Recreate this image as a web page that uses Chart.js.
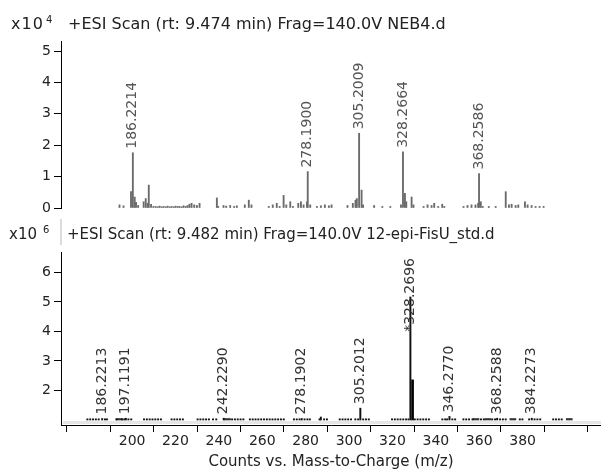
<!DOCTYPE html>
<html>
<head>
<meta charset="utf-8">
<script src="https://cdn.jsdelivr.net/npm/chart.js@4/dist/chart.umd.min.js"></script>
<style>
  html, body { margin: 0; padding: 0; background: #fff; }
  #wrap { position: relative; width: 601px; height: 473px; overflow: hidden;
          font-family: "DejaVu Sans", sans-serif; color: #222; }
  canvas { position: absolute; left: 0; }
  .t { position: absolute; white-space: pre; }
</style>
</head>
<body>
<div id="wrap">
  <canvas id="topChart" width="601" height="232" style="top:0"></canvas>
  <canvas id="bottomChart" width="601" height="233" style="top:240px"></canvas>

  <div class="t" style="left:11px;top:16px;font-size:16px;line-height:16px;letter-spacing:1px">x10</div>
  <div class="t" style="left:46px;top:15px;font-size:10px;line-height:10px">4</div>
  <div class="t" style="left:68px;top:16px;font-size:16px;line-height:16px">+ESI Scan (rt: 9.474 min) Frag=140.0V NEB4.d</div>

  <div class="t" style="left:9px;top:226px;font-size:15px;line-height:16px">x10</div>
  <div class="t" style="left:43px;top:225px;font-size:10px;line-height:10px">6</div>
  <div style="position:absolute;left:60px;top:219px;width:2px;height:26px;background:#dcdcdc"></div>
  <div class="t" style="left:67px;top:226px;font-size:15px;line-height:16px">+ESI Scan (rt: 9.482 min) Frag=140.0V 12-epi-FisU_std.d</div>
</div>

<script>
// ---- Upper spectrum: NEB4.d (counts x10^4) ----
const TOP_MZ = [
  179.2, 181.3, 185.25, 186.2214, 187.2, 187.9, 189.0, 191.9, 193.0, 194.0, 194.6, 195.8,
  197.0, 198.2, 199.3, 200.3, 201.4, 202.4, 203.5, 204.5, 205.6, 206.6, 207.7, 208.7,
  209.8, 210.8, 211.9, 212.9, 214.0, 215.0, 216.0, 217.1, 218.5, 219.9, 221.3,
  230.4, 231.1, 233.9, 235.3, 237.4, 239.5, 240.9, 245.1, 247.2, 248.6,
  257.7, 259.8, 261.9, 263.4, 265.5, 266.9, 269.0, 270.4, 273.2, 274.6, 276.0, 277.8,
  278.1900, 279.5, 283.0, 285.1, 287.2, 289.3, 290.7,
  299.1, 301.9, 303.3, 304.0, 305.2009, 306.5, 307.3, 313.1, 317.4, 321.6,
  327.2, 328.2664, 329.3, 330.0, 332.8, 333.8, 339.1, 341.2, 343.3, 344.7, 346.8, 348.9, 350.0,
  360.1, 362.2, 364.3, 366.4, 367.8, 368.2586, 369.2, 370.2, 373.4, 377.0,
  382.3, 384.0, 385.4, 387.5, 388.9, 392.4, 393.8, 395.9, 398.0, 400.1, 402.2
];
const TOP_INT = [
  0.10, 0.07, 0.52, 1.76, 0.35, 0.18, 0.08, 0.20, 0.30, 0.15, 0.73, 0.12,
  0.05, 0.05, 0.04, 0.06, 0.04, 0.05, 0.04, 0.06, 0.04, 0.05, 0.04, 0.06,
  0.05, 0.05, 0.04, 0.07, 0.05, 0.08, 0.12, 0.15, 0.10, 0.08, 0.15,
  0.32, 0.05, 0.08, 0.06, 0.08, 0.05, 0.07, 0.10, 0.25, 0.10,
  0.05, 0.10, 0.15, 0.05, 0.40, 0.10, 0.20, 0.05, 0.15, 0.20, 0.10, 0.20,
  1.16, 0.10, 0.05, 0.07, 0.10, 0.07, 0.10,
  0.08, 0.15, 0.25, 0.30, 2.38, 0.57, 0.10, 0.08, 0.05, 0.05,
  0.10, 1.79, 0.47, 0.20, 0.35, 0.10, 0.05, 0.10, 0.08, 0.15, 0.05, 0.12, 0.05,
  0.05, 0.08, 0.10, 0.10, 0.15, 1.10, 0.20, 0.05, 0.05, 0.05,
  0.52, 0.10, 0.12, 0.08, 0.10, 0.20, 0.10, 0.08, 0.05, 0.05, 0.05
];
const TOP_LABELLED = [186.2214, 278.1900, 305.2009, 328.2664, 368.2586];
const TOP_Y_TICKS = [0, 1, 2, 3, 4, 5];
const TOP_X_RANGE = [176.84, 404.0];
const TOP_Y_RANGE = [0, 5.32];

// ---- Lower spectrum: 12-epi-FisU_std.d (counts x10^6, baseline at 1) ----
const BOTTOM_BASE = 1;
const BOTTOM_MZ = [
  179.4, 180.7, 182.0, 183.3, 184.6, 186.2213, 187.5, 188.4,
  192.8, 195.4, 196.4, 197.1191, 198.3, 199.6,
  205.5, 206.8, 208.1, 209.4, 210.7, 212.0, 213.3,
  218.2, 219.5, 220.8, 222.1, 223.4,
  230.2, 231.5, 232.8, 234.1, 235.4, 237.3, 238.8,
  242.2290, 246.1, 247.4, 248.7, 250.0, 251.3,
  254.3, 255.6, 256.9, 258.2, 259.5, 260.8, 262.1, 263.4, 264.7, 266.0, 267.3, 268.6, 269.9,
  274.6, 275.9, 277.2, 278.1902, 279.5, 280.8, 281.9,
  286.4, 287.0, 288.5, 289.8,
  295.7, 297.0, 298.3, 299.6, 300.9,
  302.9, 304.2, 305.2012, 306.5, 307.8, 309.1,
  319.8, 321.1, 322.4, 323.7, 325.0, 326.3, 327.4, 328.2696,
  330.3, 331.6, 332.9, 334.2, 335.5, 336.8,
  343.0, 344.3, 345.2, 346.2770, 347.6, 348.9,
  352.7, 354.0, 355.3,
  356.9, 360.8, 362.1, 366.0, 367.3, 368.2588,
  369.6, 370.9, 372.2, 378.7, 379.9,
  383.0, 384.2273, 385.5, 386.8, 388.1,
  394.1, 395.4, 396.7, 398.0
];
const BOTTOM_INT = [
  1.04, 1.04, 1.04, 1.04, 1.04, 1.05, 1.04, 1.04,
  1.04, 1.04, 1.04, 1.06, 1.04, 1.04,
  1.04, 1.04, 1.04, 1.04, 1.04, 1.04, 1.04,
  1.04, 1.04, 1.04, 1.04, 1.04,
  1.04, 1.04, 1.04, 1.04, 1.04, 1.04, 1.04,
  1.06, 1.04, 1.04, 1.04, 1.04, 1.04,
  1.04, 1.04, 1.04, 1.04, 1.04, 1.04, 1.04, 1.04, 1.04, 1.04, 1.04, 1.04, 1.04,
  1.04, 1.04, 1.04, 1.05, 1.04, 1.04, 1.04,
  1.04, 1.10, 1.04, 1.04,
  1.04, 1.04, 1.04, 1.04, 1.04,
  1.04, 1.04, 1.40, 1.04, 1.04, 1.04,
  1.04, 1.04, 1.04, 1.04, 1.04, 1.04, 1.04, 5.17,
  1.04, 1.04, 1.04, 1.04, 1.04, 1.04,
  1.04, 1.04, 1.04, 1.12, 1.04, 1.04,
  1.04, 1.04, 1.04,
  1.04, 1.04, 1.04, 1.04, 1.04, 1.06,
  1.04, 1.04, 1.04, 1.04, 1.04,
  1.04, 1.06, 1.04, 1.04, 1.04,
  1.04, 1.04, 1.04, 1.04
];
// isotope peak next to the base peak
const BOTTOM_ISO_MZ = [329.2730];
const BOTTOM_ISO_INT = [2.36];
// short runs of unresolved baseline signal
const BOTTOM_RUN_MZ = [194.1, 244.0, 358.5, 364.0, 375.5, 401.5];
const BOTTOM_RUN_INT = [1.05, 1.05, 1.05, 1.05, 1.05, 1.05];
const BOTTOM_LABELLED = [186.2213, 197.1191, 242.2290, 278.1902, 305.2012, 328.2696, 346.2770, 368.2588, 384.2273];
const BOTTOM_Y_TICKS = [2, 3, 4, 5, 6];
const BOTTOM_X_RANGE = [177.61, 405.75];
const BOTTOM_Y_RANGE = [0.83, 6.695];

// ---- Shared m/z axis ----
const X_TICKS = [180, 200, 220, 240, 260, 280, 300, 320, 340, 360, 380, 400];
const X_TICK_LABELS = ['', '200', '220', '240', '260', '280', '300', '320', '340', '360', '380', ''];
const X_TITLE = 'Counts vs. Mass-to-Charge (m/z)';

const FONT = '"DejaVu Sans", sans-serif';

function points(mz, vals) {
  return mz.map((m, i) => ({ x: m, y: vals[i] }));
}

// Vertical m/z annotations above labelled peaks
function peakLabelPlugin(cfg) {
  return {
    id: 'peakLabels',
    afterDatasetsDraw(chart) {
      const { ctx, chartArea } = chart;
      const xs = chart.scales.x, ys = chart.scales.y;
      const maxVal = Math.max(...cfg.values);
      ctx.save();
      ctx.font = cfg.font;
      ctx.fillStyle = cfg.color;
      ctx.textAlign = 'left';
      ctx.textBaseline = 'middle';
      cfg.labelled.forEach(mz => {
        const v = cfg.values[cfg.mz.indexOf(mz)];
        let text = mz.toFixed(4);
        if (cfg.markBase && v === maxVal) text = '*' + text;
        const w = ctx.measureText(text).width;
        const px = xs.getPixelForValue(mz);
        let start = ys.getPixelForValue(v) - cfg.gap;
        if (start - w < chartArea.top + cfg.topRoom) start = chartArea.top + cfg.topRoom + w;
        ctx.save();
        ctx.translate(px, start);
        ctx.rotate(-Math.PI / 2);
        ctx.fillText(text, 0, 0);
        ctx.restore();
      });
      ctx.restore();
    }
  };
}

// light band under the lower baseline
const baselineBand = {
  id: 'baselineBand',
  beforeDatasetsDraw(chart) {
    const { ctx, chartArea } = chart;
    const y0 = chart.scales.y.getPixelForValue(BOTTOM_BASE);
    ctx.save();
    ctx.fillStyle = '#e6e6e6';
    ctx.fillRect(chartArea.left + 2, y0 + 1, chartArea.right - chartArea.left - 2, 3);
    ctx.restore();
  }
};

function yAxis(range, tickValues) {
  return {
    type: 'linear',
    min: range[0],
    max: range[1],
    afterFit(scale) { scale.width = 61; },
    afterBuildTicks(scale) { scale.ticks = tickValues.map(v => ({ value: v })); },
    grid: { drawOnChartArea: false, drawTicks: true, tickLength: 7, color: '#000', lineWidth: 1 },
    border: { display: true, color: '#000', width: 1 },
    ticks: { font: { family: FONT, size: 14 }, color: '#222', padding: 3 }
  };
}

const common = {
  responsive: false,
  animation: false,
  events: [],
  plugins: { legend: { display: false }, tooltip: { enabled: false }, title: { display: false } }
};

new Chart(document.getElementById('topChart'), {
  type: 'bar',
  data: {
    datasets: [{
      data: points(TOP_MZ, TOP_INT),
      backgroundColor: '#6a6a6a',
      barThickness: 1.2,
      grouped: false
    }]
  },
  options: {
    ...common,
    layout: { padding: { top: 41, bottom: 24, left: 0, right: 0 } },
    scales: {
      x: { type: 'linear', min: TOP_X_RANGE[0], max: TOP_X_RANGE[1], display: false },
      y: yAxis(TOP_Y_RANGE, TOP_Y_TICKS)
    }
  },
  plugins: [peakLabelPlugin({
    mz: TOP_MZ, values: TOP_INT, labelled: TOP_LABELLED,
    font: '14px ' + FONT, color: '#555', gap: 4, topRoom: 6, markBase: false
  })]
});

new Chart(document.getElementById('bottomChart'), {
  type: 'bar',
  data: {
    datasets: [
      { data: points(BOTTOM_MZ, BOTTOM_INT), base: BOTTOM_BASE, backgroundColor: '#111', barThickness: 1.3, grouped: false },
      { data: points(BOTTOM_ISO_MZ, BOTTOM_ISO_INT), base: BOTTOM_BASE, backgroundColor: '#000', barThickness: 2, grouped: false },
      { data: points(BOTTOM_RUN_MZ, BOTTOM_RUN_INT), base: BOTTOM_BASE, backgroundColor: '#333', barThickness: 6, grouped: false }
    ]
  },
  options: {
    ...common,
    layout: { padding: { top: 12, bottom: 0, left: 0, right: 0 } },
    scales: {
      x: {
        type: 'linear',
        min: BOTTOM_X_RANGE[0],
        max: BOTTOM_X_RANGE[1],
        afterFit(scale) { scale.height = 48; },
        afterBuildTicks(scale) { scale.ticks = X_TICKS.map(v => ({ value: v })); },
        grid: { drawOnChartArea: false, drawTicks: true, tickLength: 7, color: '#000', lineWidth: 1 },
        border: { display: true, color: '#000', width: 1 },
        ticks: {
          font: { family: FONT, size: 14 }, color: '#222', padding: 1,
          maxRotation: 0, autoSkip: false,
          callback: (value, index) => X_TICK_LABELS[index]
        },
        title: { display: true, text: X_TITLE, font: { family: FONT, size: 15 }, color: '#222', padding: { top: 0, bottom: 2 } }
      },
      y: yAxis(BOTTOM_Y_RANGE, BOTTOM_Y_TICKS)
    }
  },
  plugins: [baselineBand, peakLabelPlugin({
    mz: BOTTOM_MZ, values: BOTTOM_INT, labelled: BOTTOM_LABELLED,
    font: '14px ' + FONT, color: '#333', gap: 4, topRoom: 6, markBase: true
  })]
});
</script>
</body>
</html>
